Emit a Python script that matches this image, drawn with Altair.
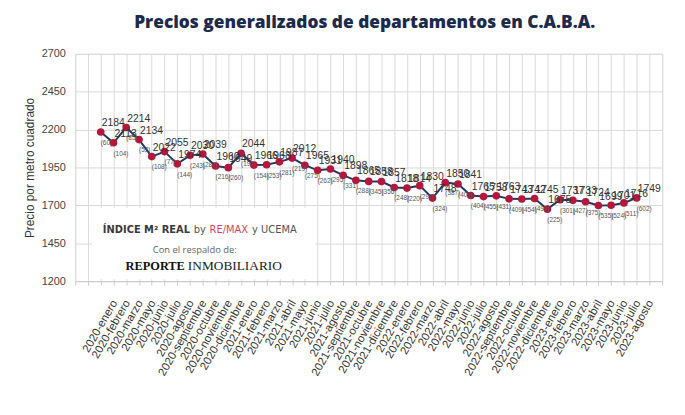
import altair as alt
import pandas as pd

months = [
    "2020-enero", "2020-febrero", "2020-marzo", "2020-mayo", "2020-junio", "2020-julio",
    "2020-agosto", "2020-septiembre", "2020-octubre", "2020-noviembre", "2020-diciembre",
    "2021-enero", "2021-febrero", "2021-marzo", "2021-abril", "2021-mayo", "2021-junio",
    "2021-julio", "2021-agosto", "2021-septiembre", "2021-octubre", "2021-noviembre",
    "2021-diciembre", "2022-enero", "2022-febrero", "2022-marzo", "2022-abril", "2022-mayo",
    "2022-junio", "2022-julio", "2022-agosto", "2022-septiembre", "2022-octubre",
    "2022-noviembre", "2022-diciembre", "2023-enero", "2023-febrero", "2023-marzo",
    "2023-abril", "2023-mayo", "2023-junio", "2023-julio", "2023-agosto",
]
prices = [
    2184, 2113, 2214, 2134, 2022, 2055, 1974, 2030, 2039, 1960, 1949,
    2044, 1966, 1968, 1987, 2012, 1965, 1931, 1940, 1898, 1865, 1858, 1857,
    1818, 1814, 1830, 1748, 1850, 1841, 1765, 1758, 1763, 1743, 1742, 1745,
    1675, 1737, 1733, 1724, 1699, 1701, 1716, 1749,
]
counts = [
    60, 104, 85, 53, 108, 77, 144, 243, 280, 216, 260,
    190, 154, 253, 281, 219, 275, 262, 295, 331, 288, 345, 356,
    248, 220, 297, 324, 387, 405, 404, 455, 431, 409, 454, 493,
    225, 301, 427, 375, 535, 524, 511, 602,
]
y_ticks = [1200, 1450, 1700, 1950, 2200, 2450, 2700]

df = pd.DataFrame({
    "i": list(range(len(months))),
    "mes": months,
    "precio": prices,
    "n": [f"({c})" for c in counts],
})

n = len(months)
arr = "[" + ",".join(f"'{m}'" for m in months) + "]"
label_expr = f"datum.value >= 0 && datum.value <= {n-1} ? {arr}[datum.value] : ''"

FONT = "Liberation Sans"

x_enc = alt.X(
    "i:Q",
    scale=alt.Scale(domain=[-2, n + 1], nice=False, zero=False),
    axis=alt.Axis(
        values=list(range(-2, n + 2)),
        labelExpr=label_expr,
        labelAngle=300,
        labelAlign="right",
        labelBaseline="middle",
        labelPadding=16,
        labelOffset=14,
        labelFontSize=11.5,
        labelFont=FONT,
        labelColor="#333333",
        labelOverlap=False,
        labelFlush=False,
        labelBound=False,
        grid=True,
        gridColor="#d9d9d9",
        tickColor="#cccccc",
        tickSize=4,
        domainColor="#cccccc",
        title=None,
    ),
)
y_enc = alt.Y(
    "precio:Q",
    scale=alt.Scale(domain=[1200, 2700], nice=False, zero=False),
    axis=alt.Axis(
        values=y_ticks,
        format="d",
        labelFontSize=11,
        labelFont=FONT,
        labelColor="#444444",
        labelPadding=10,
        ticks=False,
        domain=False,
        gridColor="#d9d9d9",
        title="Precio por metro cuadrado",
        titleFont=FONT,
        titleFontSize=12,
        titleFontWeight="normal",
        titleColor="#333333",
        titleX=-46,
        titleY=115,
        titleAlign="center",
        titleBaseline="middle",
    ),
)

base = alt.Chart(df).encode(x=x_enc, y=y_enc)

line = base.mark_line(color="#22385f", strokeWidth=2)
pts = base.mark_circle(color="#b5173c", opacity=1, size=60)
vlabels = base.mark_text(align="left", baseline="middle", dx=1, dy=-9, fontSize=10.5,
                         font=FONT, color="#333333").encode(text="precio:Q")
nlabels = base.mark_text(align="left", baseline="middle", dx=0, dy=11, fontSize=6.5,
                         font=FONT, color="#555555").encode(text="n:N")

one = alt.Chart(pd.DataFrame({"a": [0]}))
box = one.mark_rect(color="white").encode(
    x=alt.value(17), x2=alt.value(243), y=alt.value(156), y2=alt.value(228))

def txt(s, x, y, size, color, weight="normal", font="DejaVu Sans", align="left"):
    return one.mark_text(text=s, align=align, baseline="middle", fontSize=size, font=font,
                         fontWeight=weight, color=color).encode(x=alt.value(x), y=alt.value(y))

logo = [
    txt("ÍNDICE M² REAL", 28, 178, 10, "#3a3a3a", "bold"),
    txt("by", 120, 178, 10, "#555555"),
    txt("RE/MAX", 136, 178, 10, "#d0475d"),
    txt("y UCEMA", 179, 178, 10, "#555555"),
    txt("Con el respaldo de:", 121, 199, 9.5, "#666666", font="Open Sans", align="center"),
    txt("REPORTE", 51, 215, 12.5, "#111111", "bold", "Liberation Serif"),
    txt("INMOBILIARIO", 114, 215, 13.5, "#222222", "normal", "Liberation Serif"),
]

chart = alt.layer(box, line, pts, vlabels, nlabels, *logo).properties(
    width=594,
    height=230,
    autosize=alt.AutoSizeParams(type="none"),
    padding={"left": 68, "top": 44, "right": 15, "bottom": 125},
    title=alt.TitleParams(
        text="Precios generalizados de departamentos en C.A.B.A.",
        font="Open Sans", fontSize=17.5, fontWeight=800, color="#1c2a4d",
        anchor="middle", offset=17, dx=-4,
    ),
).configure_view(stroke=None).configure(background="white")

chart.save("out.html", embed_options={"renderer": "svg", "actions": False})
